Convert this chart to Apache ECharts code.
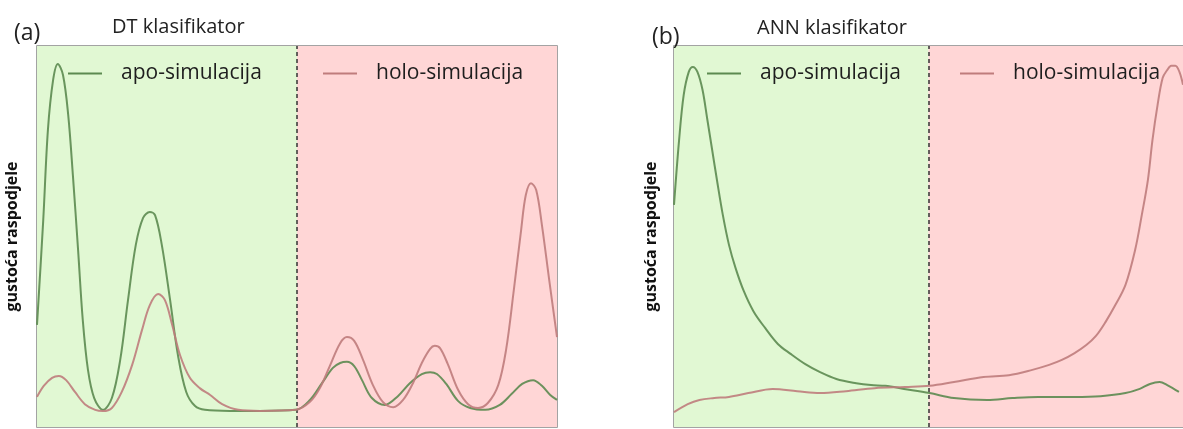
<!DOCTYPE html>
<html><head><meta charset="utf-8">
<script src="https://cdn.jsdelivr.net/npm/echarts@6/dist/echarts.min.js"></script>
<style>html,body{margin:0;padding:0;background:#fff}#c{width:1183px;height:429px}</style>
</head><body><div id="c"></div>
<script>
const panelTitles = ['DT klasifikator', 'ANN klasifikator'];
const panelLetters = ['(a)', '(b)'];
const seriesNames = ['apo-simulacija', 'holo-simulacija'];
const yAxisName = 'gustoća raspodjele';

// (a) DT classifier - apo-simulation density
const dtApoX = [0,.012,.021,.031,.040,.050,.060,.069,.079,.088,.098,.110,.127,.144,.160,.175,.190,.204,.217,.227,.240,.256,.271,.287,.304,.323,.371,.429,.498,.525,.548,.569,.583,.596,.610,.625,.644,.669,.694,.717,.740,.756,.769,.787,.810,.833,.862,.890,.913,.933,.954,.971,.987,1];
const dtApoY = [26.8,54.3,78.0,91.1,95.3,92.4,81.9,66.1,46.5,28.1,15.0,7.6,4.5,7.6,17.6,33.3,47.8,54.9,56.4,55.6,47.8,33.3,18.9,9.2,5.5,4.5,4.2,4.2,4.5,7.1,11.5,15.5,16.8,17.1,16.0,12.3,7.6,5.8,8.1,11.5,13.9,14.4,13.9,11.3,6.8,5.0,4.5,5.8,8.7,11.3,12.3,10.8,8.4,7.1];
// (a) DT classifier - holo-simulation density
const dtHoloX = [0,.013,.029,.042,.056,.073,.092,.112,.127,.144,.163,.183,.202,.217,.233,.246,.260,.275,.294,.313,.333,.356,.387,.429,.498,.525,.544,.563,.583,.596,.610,.627,.646,.665,.685,.704,.723,.740,.756,.765,.775,.790,.810,.829,.848,.867,.887,.902,.917,.931,.940,.950,.960,.971,.985,1];
const dtHoloY = [7.9,10.8,12.9,13.4,12.3,9.2,6.0,4.5,4.2,5.0,9.2,16.3,25.5,32.0,34.9,33.3,26.8,18.9,12.9,10.2,8.4,6.0,4.5,4.2,4.5,6.6,10.2,16.0,22.0,23.6,22.6,17.6,11.0,6.6,5.2,7.1,11.5,16.8,20.5,21.3,20.7,16.5,9.7,6.0,5.0,6.3,11.0,20.2,36.0,51.7,60.9,64.0,62.2,53.0,38.6,23.6];
// (b) ANN classifier - apo-simulation density
const annApoX = [0,.010,.019,.029,.037,.046,.056,.065,.075,.085,.096,.108,.121,.137,.156,.179,.204,.229,.258,.287,.319,.358,.387,.415,.452,.502,.550,.615,.665,.715,.787,.838,.887,.915,.935,.954,.969,.992];
const annApoY = [58.3,75.3,87.1,93.2,94.5,93.2,88.5,81.1,72.7,64.3,55.6,47.8,41.7,35.7,30.4,26.0,21.8,19.2,16.5,14.4,12.6,11.5,11.0,10.8,10.0,8.9,7.6,7.1,7.6,7.9,7.9,8.1,8.9,10.0,11.3,11.8,11.0,9.2];
// (b) ANN classifier - holo-simulation density
const annHoloX = [0,.027,.050,.079,.108,.146,.194,.242,.287,.338,.394,.454,.502,.550,.608,.658,.704,.737,.762,.787,.810,.829,.848,.867,.887,.906,.919,.931,.940,.950,.960,.969,.977,.985,.993,1];
const annHoloY = [3.9,6.0,7.1,7.6,7.9,8.9,10.0,9.4,8.9,9.4,10.2,10.5,10.8,11.8,13.1,13.6,15.0,16.3,17.6,19.4,21.5,23.9,27.6,32.0,37.3,46.5,55.6,64.8,75.3,84.5,91.6,93.7,94.8,94.8,93.2,89.8];

const split = 0.5;
const GREEN = '#5c8a50', PINK = '#bf7c7c';
const BG_GREEN = '#e1f8d3', BG_PINK = '#ffd6d6';
const FONT = 'Open Sans';

function pairs(xs, ys) { return xs.map((x, i) => [x, ys[i]]); }

const grids = [
  { left: 37, top: 46, width: 520, bottom: 2 },
  { left: 674, top: 46, width: 520, bottom: 2 }
];

function lineSeries(name, color, xs, ys, idx, withBg) {
  const s = {
    name: name, type: 'line', xAxisIndex: idx, yAxisIndex: idx,
    data: pairs(xs, ys), smooth: 0.35, showSymbol: false, symbol: 'none',
    color: color, lineStyle: { width: 2, color: color, opacity: 0.9 },
    z: 5
  };
  if (withBg) {
    s.markArea = {
      silent: true, z: 1,
      data: [
        [{ xAxis: 0, itemStyle: { color: BG_GREEN } }, { xAxis: split }],
        [{ xAxis: split, itemStyle: { color: BG_PINK } }, { xAxis: 1 }]
      ]
    };
    s.markLine = {
      silent: true, symbol: 'none', label: { show: false },
      lineStyle: { type: [4, 3], color: '#333', width: 1.5 },
      data: [{ xAxis: split }]
    };
  }
  return s;
}

const legendBase = {
  orient: 'horizontal', icon: 'rect', itemWidth: 34, itemHeight: 2,
  textStyle: { fontFamily: FONT, fontSize: 21, color: '#1e1e1e', padding: [0, 0, 0, 14] },
  selectedMode: false, top: 58
};

const option = {
  animation: false,
  grid: grids.map(g => Object.assign({ show: true, borderColor: '#858585', borderWidth: 1.5, backgroundColor: 'transparent' }, g)),
  title: [
    { text: panelLetters[0], left: 9, top: 17, textStyle: { fontFamily: FONT, fontSize: 23, fontWeight: 'normal', color: '#222' } },
    { text: panelTitles[0], left: 107, top: 12, textStyle: { fontFamily: FONT, fontSize: 20, fontWeight: 'normal', color: '#222' } },
    { text: panelLetters[1], left: 647, top: 21, textStyle: { fontFamily: FONT, fontSize: 23, fontWeight: 'normal', color: '#222' } },
    { text: panelTitles[1], left: 752, top: 13, textStyle: { fontFamily: FONT, fontSize: 20, fontWeight: 'normal', color: '#222' } }
  ],
  legend: [
    Object.assign({}, legendBase, { data: [seriesNames[0]], left: 63 }),
    Object.assign({}, legendBase, { data: [seriesNames[1]], left: 318 }),
    Object.assign({}, legendBase, { data: [seriesNames[0]], left: 702 }),
    Object.assign({}, legendBase, { data: [seriesNames[1]], left: 955 })
  ],
  xAxis: [0, 1].map(i => ({
    type: 'value', gridIndex: i, min: 0, max: 1,
    axisLine: { show: false }, axisTick: { show: false }, axisLabel: { show: false }, splitLine: { show: false }
  })),
  yAxis: [0, 1].map(i => ({
    type: 'value', gridIndex: i, min: 0, max: 100,
    name: yAxisName, nameLocation: 'middle', nameGap: i === 0 ? 17 : 15, nameRotate: 90,
    nameTextStyle: { fontFamily: FONT, fontSize: 16, fontWeight: 'bold', color: '#111' },
    axisLine: { show: false }, axisTick: { show: false }, axisLabel: { show: false }, splitLine: { show: false }
  })),
  series: [
    lineSeries(seriesNames[0], GREEN, dtApoX, dtApoY, 0, true),
    lineSeries(seriesNames[1], PINK, dtHoloX, dtHoloY, 0, false),
    lineSeries(seriesNames[0], GREEN, annApoX, annApoY, 1, true),
    lineSeries(seriesNames[1], PINK, annHoloX, annHoloY, 1, false)
  ]
};

const chart = echarts.init(document.getElementById('c'), null, { renderer: 'canvas' });
chart.setOption(option);
</script>
</body></html>
